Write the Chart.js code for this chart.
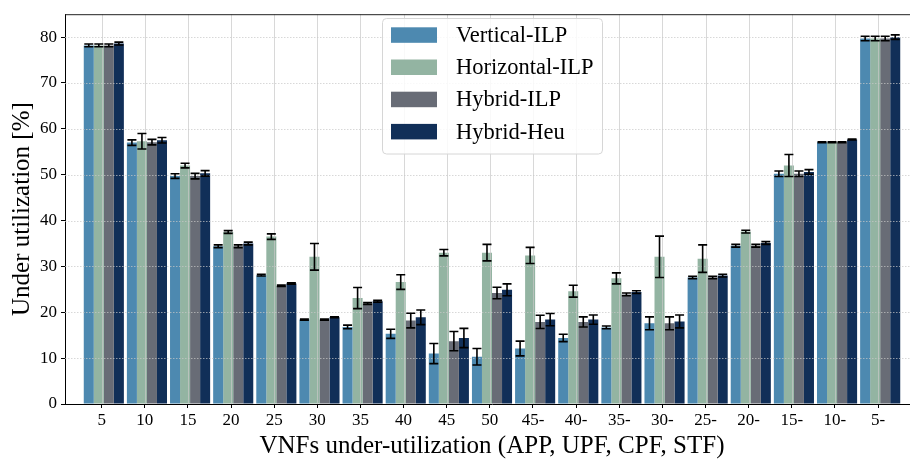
<!DOCTYPE html>
<html>
<head>
<meta charset="utf-8">
<title>Under utilization</title>
<script src="https://cdn.jsdelivr.net/npm/chart.js@4.4.1/dist/chart.umd.min.js"></script>
<style>
  html, body { margin: 0; padding: 0; background: #fff; overflow: hidden; }
  /* the original figure is cropped on the right, so the canvas is wider than its frame */
  #frame { width: 910px; height: 459px; overflow: hidden; }
  #chart { display: block; }
</style>
</head>
<body>
<div id="frame">
  <canvas id="chart" width="930" height="459" style="width:930px;height:459px"></canvas>
</div>
<script>
/* Under utilization per VNF load step - grouped bars with std error bars */

const categories = ['5', '10', '15', '20', '25', '30', '35', '40', '45', '50',
  '45-', '40-', '35-', '30-', '25-', '20-', '15-', '10-', '5-'];

const verticalIlp = [78.2, 57.0, 49.7, 34.4, 28.1, 18.4, 16.8, 15.3, 11.0, 10.3, 12.1, 14.4, 16.7, 17.6, 27.6, 34.5, 50.2, 57.1, 79.7];
const verticalIlpErr = [0.3, 0.6, 0.5, 0.3, 0.2, 0.1, 0.4, 1.0, 2.2, 1.8, 1.6, 0.8, 0.3, 1.4, 0.25, 0.3, 0.6, 0.1, 0.5];

const horizontalIlp = [78.2, 57.3, 52.0, 37.5, 36.5, 32.1, 23.1, 26.6, 33.0, 33.0, 32.4, 24.6, 27.4, 32.1, 31.7, 37.6, 52.0, 57.1, 79.7];
const horizontalIlpErr = [0.3, 1.7, 0.5, 0.3, 0.6, 2.9, 2.3, 1.6, 0.7, 1.8, 1.75, 1.3, 1.2, 4.5, 3.0, 0.3, 2.4, 0.1, 0.5];

const hybridIlp = [78.2, 57.1, 49.7, 34.4, 25.8, 18.4, 21.9, 18.2, 13.7, 24.2, 17.9, 17.9, 23.9, 17.6, 27.6, 34.5, 50.2, 57.1, 79.7];
const hybridIlpErr = [0.3, 0.6, 0.6, 0.3, 0.15, 0.1, 0.2, 1.6, 2.1, 1.25, 1.45, 1.1, 0.3, 1.4, 0.25, 0.3, 0.6, 0.1, 0.5];

const hybridHeu = [78.6, 57.5, 50.3, 35.0, 26.3, 18.9, 22.4, 18.9, 14.4, 24.9, 18.4, 18.4, 24.4, 18.0, 28.0, 35.1, 50.6, 57.7, 80.0];
const hybridHeuErr = [0.3, 0.6, 0.6, 0.3, 0.15, 0.1, 0.2, 1.6, 2.1, 1.3, 1.35, 1.0, 0.3, 1.4, 0.3, 0.3, 0.5, 0.1, 0.5];

const yTicks = [0, 10, 20, 30, 40, 50, 60, 70, 80];

const FONT = "'Liberation Serif', 'Times New Roman', serif";
const TICK_SHIFT = -0.05; // ticks sit slightly left of group centre in the original

const series = [
  { label: 'Vertical-ILP', values: verticalIlp, errors: verticalIlpErr, color: '#4d89b0' },
  { label: 'Horizontal-ILP', values: horizontalIlp, errors: horizontalIlpErr, color: '#93b4a2' },
  { label: 'Hybrid-ILP', values: hybridIlp, errors: hybridIlpErr, color: '#686c76' },
  { label: 'Hybrid-Heu', values: hybridHeu, errors: hybridHeuErr, color: '#112f58' }
];

// grid lines are painted over the bars, like the matplotlib figure
const gridOnTop = {
  id: 'gridOnTop',
  afterDatasetsDraw(chart) {
    const { ctx, chartArea: area, scales: { x, y } } = chart;
    ctx.save();
    ctx.strokeStyle = 'rgba(200,200,200,0.7)';
    ctx.lineWidth = 1;
    x.ticks.forEach(t => {
      const px = Math.round(x.getPixelForValue(t.value)) + 0.5;
      ctx.beginPath();
      ctx.moveTo(px, area.top);
      ctx.lineTo(px, area.bottom);
      ctx.stroke();
    });
    ctx.setLineDash([1.5, 1.5]);
    y.ticks.forEach(t => {
      if (t.value === 0) return;
      const py = Math.round(y.getPixelForValue(t.value)) + 0.5;
      ctx.beginPath();
      ctx.moveTo(area.left, py);
      ctx.lineTo(area.right, py);
      ctx.stroke();
    });
    ctx.restore();
  }
};

const errorBars = {
  id: 'errorBars',
  afterDatasetsDraw(chart) {
    const { ctx, scales: { y } } = chart;
    ctx.save();
    ctx.strokeStyle = '#000';
    ctx.lineWidth = 1.6;
    chart.data.datasets.forEach((ds, di) => {
      const meta = chart.getDatasetMeta(di);
      meta.data.forEach((bar, i) => {
        const v = ds.data[i].y;
        const e = ds.errors[i];
        const top = y.getPixelForValue(v + e);
        const bot = y.getPixelForValue(v - e);
        const cap = 4.5;
        ctx.beginPath();
        ctx.moveTo(bar.x, top);
        ctx.lineTo(bar.x, bot);
        ctx.moveTo(bar.x - cap, top);
        ctx.lineTo(bar.x + cap, top);
        ctx.moveTo(bar.x - cap, bot);
        ctx.lineTo(bar.x + cap, bot);
        ctx.stroke();
      });
    });
    ctx.restore();
  }
};

const frameAndLegend = {
  id: 'frameAndLegend',
  afterDraw(chart) {
    const { ctx, chartArea: area } = chart;
    ctx.save();
    // top spine only, the right one is cut off in the original
    ctx.strokeStyle = '#222';
    ctx.lineWidth = 1;
    ctx.beginPath();
    ctx.moveTo(area.left, area.top + 0.5);
    ctx.lineTo(area.right + 20, area.top + 0.5);
    ctx.stroke();

    // legend box
    const bx = 382.5, by = 18.5, bw = 220, bh = 135.5;
    ctx.beginPath();
    ctx.roundRect(bx, by, bw, bh, 4);
    ctx.fillStyle = 'rgba(255,255,255,0.85)';
    ctx.fill();
    ctx.strokeStyle = '#d6d6d6';
    ctx.stroke();

    ctx.font = `22.5px ${FONT}`;
    ctx.textBaseline = 'middle';
    ctx.textAlign = 'left';
    chart.data.datasets.forEach((ds, i) => {
      const cy = 35 + i * 32.2;
      ctx.fillStyle = ds.backgroundColor;
      ctx.fillRect(391, cy - 7.7, 46, 15.5);
      ctx.fillStyle = '#000';
      ctx.fillText(ds.label, 456, cy + 1);
    });
    ctx.restore();
  }
};

new Chart(document.getElementById('chart'), {
  type: 'bar',
  data: {
    datasets: series.map(s => ({
      label: s.label,
      data: s.values.map((v, i) => ({ x: i, y: v })),
      errors: s.errors,
      backgroundColor: s.color,
      borderWidth: 0,
      categoryPercentage: 0.93,
      barPercentage: 1.0
    }))
  },
  options: {
    responsive: false,
    animation: false,
    devicePixelRatio: 1,
    layout: { padding: { left: 0, top: 6, right: 11, bottom: 0 } },
    plugins: {
      legend: { display: false },
      tooltip: { enabled: false }
    },
    scales: {
      x: {
        type: 'linear',
        offset: false,
        min: -0.9,
        max: 18.9,
        afterBuildTicks: scale => {
          scale.ticks = categories.map((_, i) => ({ value: i + TICK_SHIFT }));
        },
        afterFit: scale => { scale.height = 55; },
        ticks: {
          callback: (v, i) => categories[i],
          font: { family: FONT, size: 17 },
          color: '#000',
          padding: 2,
          maxRotation: 0,
          autoSkip: false
        },
        grid: { offset: false, drawOnChartArea: false, drawTicks: true, tickLength: 4, tickColor: '#000', tickWidth: 1 },
        border: { display: true, color: '#000', width: 1 },
        title: {
          display: true,
          text: 'VNFs under-utilization (APP, UPF, CPF, STF)',
          font: { family: FONT, size: 25 },
          color: '#000',
          padding: { top: 0, bottom: -2 }
        }
      },
      y: {
        min: 0,
        max: 85,
        afterBuildTicks: scale => {
          scale.ticks = yTicks.map(v => ({ value: v }));
        },
        afterFit: scale => { scale.width = 65; },
        ticks: {
          font: { family: FONT, size: 17 },
          color: '#000',
          padding: 4
        },
        grid: { drawOnChartArea: false, drawTicks: true, tickLength: 4, tickColor: '#000', tickWidth: 1 },
        border: { display: true, color: '#000', width: 1 },
        title: {
          display: true,
          text: 'Under utilization [%]',
          font: { family: FONT, size: 25 },
          color: '#000',
          padding: { top: 7, bottom: 0 }
        }
      }
    }
  },
  plugins: [gridOnTop, errorBars, frameAndLegend]
});
</script>
</body>
</html>
